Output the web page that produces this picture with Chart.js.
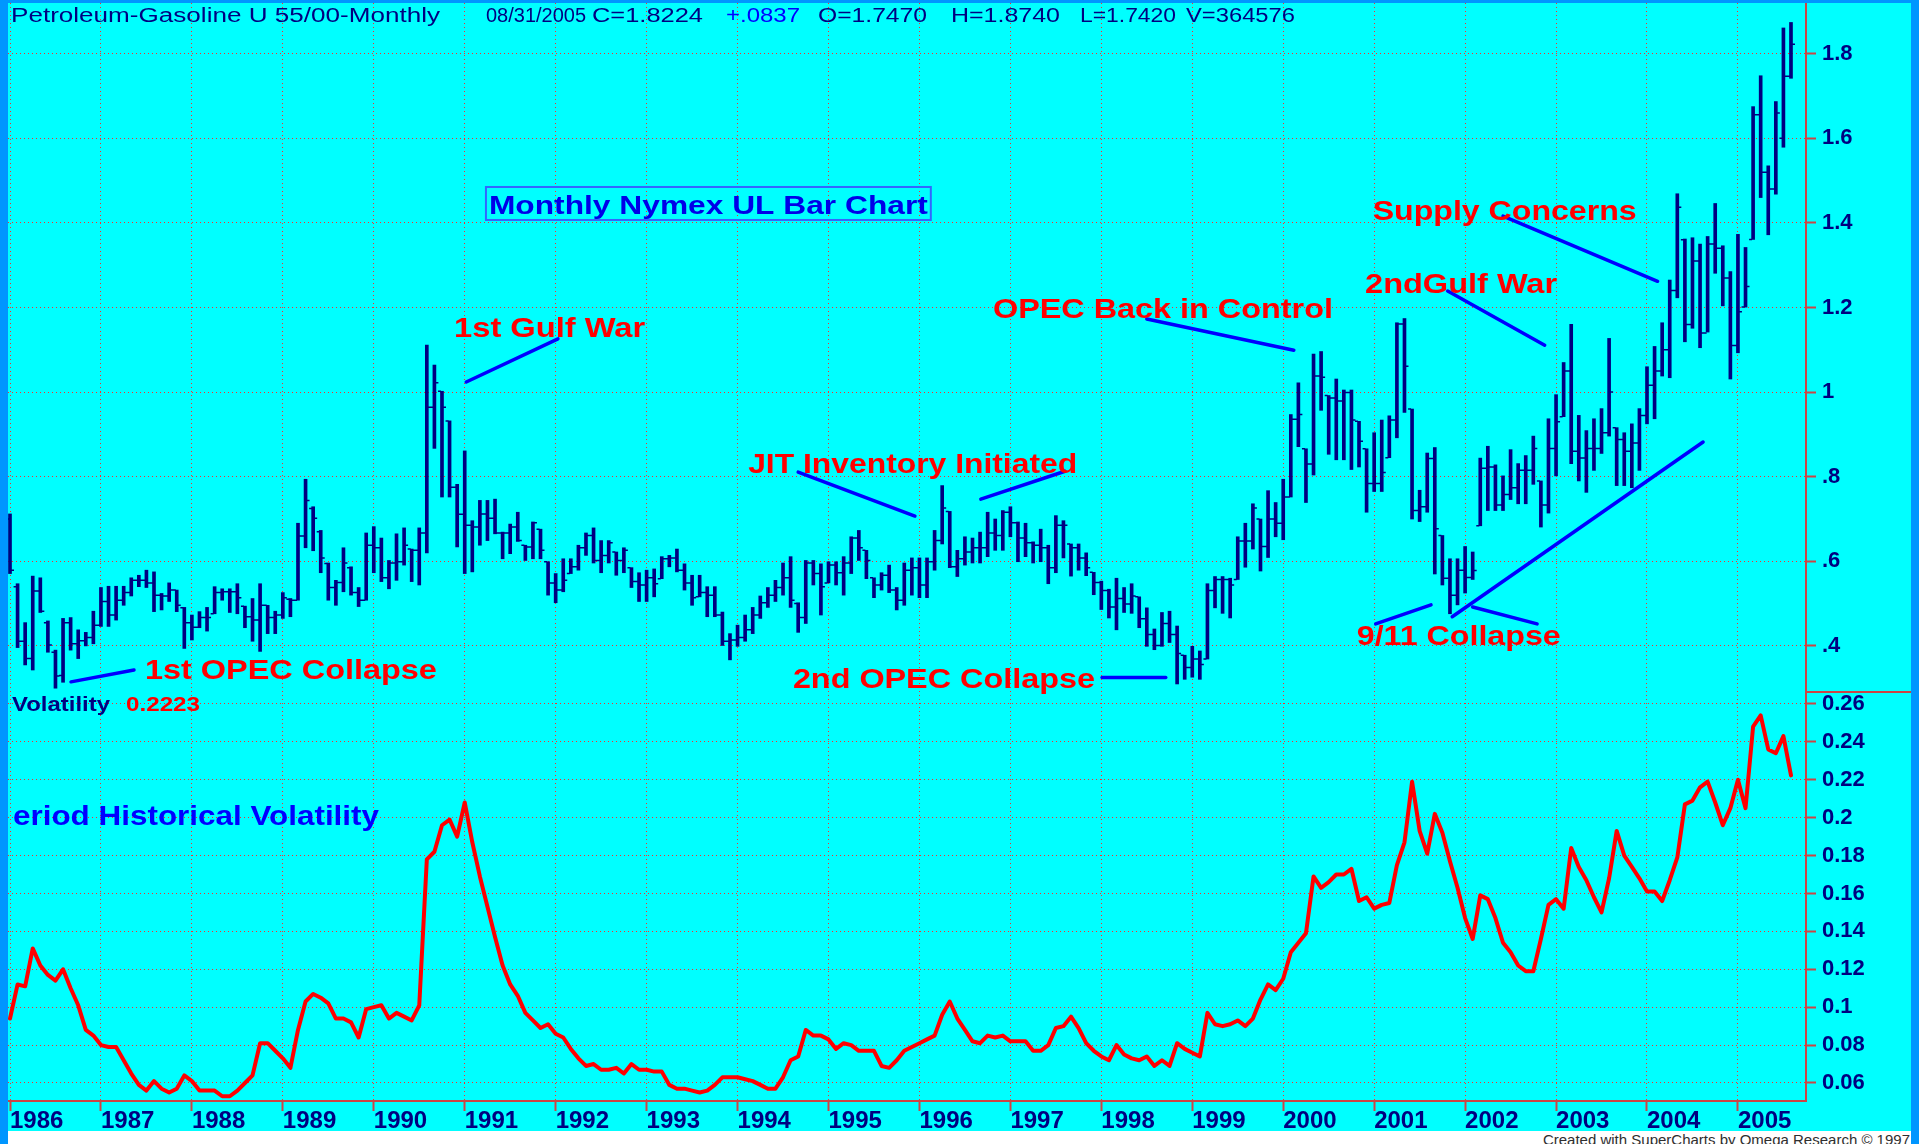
<!DOCTYPE html>
<html>
<head>
<meta charset="utf-8">
<script src="https://cdn.jsdelivr.net/npm/chart.js@4"></script>
<style>
  html, body { margin: 0; padding: 0; width: 1919px; height: 1144px; overflow: hidden; background: #0096ff; }
  #wrap { position: absolute; left: 8px; top: 3px; width: 1903px; height: 1128px; background: #00ffff; }
  #foot { position: absolute; left: 8px; top: 1131px; width: 1903px; height: 13px; background: #ffffff; overflow: hidden; }
  #foot span { position: absolute; right: 1px; top: 1px; font: 15px "Liberation Sans", Arial, sans-serif; line-height: 15px; color: #303030; white-space: nowrap; }
</style>
</head>
<body>
<div id="wrap"><canvas id="myChart" width="1903" height="1128"></canvas></div>
<div id="foot"><span>Created with SuperCharts by Omega Research © 1997</span></div>
<script>
const years = ["1986", "1987", "1988", "1989", "1990", "1991", "1992", "1993", "1994", "1995",
  "1996", "1997", "1998", "1999", "2000", "2001", "2002", "2003", "2004", "2005"];

// monthly bars, Jan 1986 .. Aug 2005
const high = [
  .712, .547, .455, .565, .561, .459, .390, .465, .467, .438, .432, .482,
  .538, .541, .541, .541, .561, .567, .579, .575, .524, .549, .532, .491,
  .473, .481, .491, .540, .535, .535, .547, .494, .512, .547, .496, .482,
  .526, .512, .690, .794, .729, .673, .596, .555, .632, .587, .538, .667,
  .682, .655, .602, .665, .679, .629, .679, 1.111, 1.064, 1.002, .932, .782,
  .861, .696, .744, .744, .747, .669, .688, .716, .638, .693, .676, .599,
  .571, .606, .606, .638, .667, .679, .649, .649, .622, .632, .585, .573,
  .579, .582, .611, .614, .629, .594, .567, .567, .540, .540, .480, .429,
  .449, .473, .491, .518, .538, .555, .596, .611, .502, .602, .602, .594,
  .599, .599, .611, .658, .673, .626, .561, .573, .591, .538, .596, .608,
  .608, .608, .673, .779, .718, .626, .658, .655, .669, .716, .700, .720,
  .729, .693, .690, .646, .676, .638, .708, .696, .641, .641, .620, .574,
  .553, .534, .560, .538, .547, .516, .490, .440, .479, .482, .447, .378,
  .399, .388, .547, .564, .564, .560, .658, .690, .736, .700, .767, .739,
  .794, .947, 1.022, .866, 1.090, 1.096, .992, 1.031, 1.005, 1.005, .931, .866,
  .904, .934, .944, 1.164, 1.174, .960, .768, .856, .869, .661, .606, .606,
  .635, .622, .844, .872, .828, .802, .864, .831, .850, .896, .790, .937,
  .994, 1.070, 1.160, .945, .909, .937, .961, 1.127, .916, .904, .925, .961,
  1.060, 1.108, 1.164, 1.265, 1.469, 1.362, 1.365, 1.350, 1.368, 1.446, 1.346, 1.285,
  1.373, 1.342, 1.675, 1.748, 1.535, 1.687, 1.861, 1.874
];
const low = [
  .571, .396, .355, .343, .479, .385, .300, .314, .390, .370, .400, .405,
  .446, .446, .461, .496, .518, .540, .538, .481, .485, .505, .481, .394,
  .414, .443, .435, .476, .508, .479, .476, .443, .411, .387, .429, .429,
  .465, .469, .508, .632, .625, .573, .508, .496, .528, .520, .493, .508,
  .573, .552, .535, .555, .591, .552, .544, .620, .867, .752, .752, .634,
  .571, .575, .638, .649, .665, .606, .618, .647, .602, .606, .606, .520,
  .502, .528, .571, .579, .614, .596, .573, .596, .567, .573, .538, .505,
  .505, .516, .559, .587, .575, .532, .496, .516, .469, .469, .401, .367,
  .399, .411, .429, .465, .491, .505, .520, .491, .432, .453, .544, .473,
  .549, .544, .520, .571, .602, .559, .514, .532, .526, .485, .496, .520,
  .514, .514, .579, .641, .585, .564, .591, .596, .596, .611, .626, .626,
  .658, .599, .611, .596, .599, .547, .573, .608, .565, .579, .566, .521,
  .486, .466, .438, .479, .477, .443, .399, .391, .399, .408, .310, .321,
  .326, .321, .369, .490, .477, .466, .557, .586, .629, .577, .609, .658,
  .651, .752, .871, .739, .804, .957, .853, .840, .840, .817, .823, .716,
  .765, .765, .845, .892, .952, .700, .694, .716, .570, .544, .476, .497,
  .525, .557, .684, .720, .720, .720, .746, .736, .736, .782, .681, .714,
  .802, .942, .831, .790, .763, .815, .855, .896, .779, .779, .774, .815,
  .925, .937, 1.038, 1.034, 1.223, 1.119, 1.151, 1.105, 1.142, 1.281, 1.204, 1.031,
  1.093, 1.201, 1.361, 1.460, 1.372, 1.468, 1.579, 1.742
];
const open = [
  .700, .540, .411, .370, .530, .455, .385, .330, .455, .405, .412, .420,
  .449, .505, .473, .508, .526, .555, .555, .549, .520, .518, .532, .490,
  .455, .444, .467, .476, .526, .528, .528, .494, .469, .461, .496, .467,
  .473, .510, .508, .660, .725, .670, .595, .538, .550, .585, .526, .508,
  .638, .632, .561, .596, .599, .629, .626, .667, .964, 1.002, .932, .775,
  .711, .685, .681, .712, .702, .667, .667, .681, .638, .634, .676, .599,
  .549, .532, .571, .587, .632, .661, .602, .614, .622, .602, .585, .552,
  .544, .561, .559, .606, .608, .579, .549, .516, .526, .520, .473, .411,
  .414, .420, .438, .473, .502, .520, .538, .561, .500, .467, .596, .571,
  .549, .591, .573, .596, .655, .626, .561, .544, .567, .532, .508, .579,
  .585, .544, .599, .649, .718, .587, .606, .622, .632, .632, .667, .661,
  .716, .691, .655, .644, .638, .632, .585, .685, .641, .632, .608, .574,
  .550, .531, .492, .512, .499, .516, .464, .427, .401, .453, .427, .378,
  .349, .369, .369, .531, .557, .557, .557, .648, .648, .700, .635, .700,
  .690, .752, .936, .866, .830, 1.038, .992, .986, .979, .999, .931, .866,
  .784, .784, .845, .934, 1.161, .960, .720, .729, .843, .661, .560, .520,
  .579, .562, .684, .820, .823, .733, .758, .774, .815, .815, .790, .733,
  .867, .942, 1.050, .860, .844, .867, .867, .904, .916, .888, .860, .880,
  .945, 1.016, 1.050, 1.100, 1.240, 1.360, 1.160, 1.310, 1.140, 1.350, 1.340, 1.270,
  1.110, 1.201, 1.361, 1.656, 1.520, 1.480, 1.600, 1.747
];
const close = [
  .579, .411, .370, .530, .482, .402, .329, .455, .405, .412, .420, .449,
  .505, .473, .508, .526, .555, .555, .549, .520, .518, .532, .496, .455,
  .444, .467, .467, .526, .528, .528, .514, .469, .461, .496, .467, .473,
  .514, .508, .660, .744, .702, .608, .538, .550, .596, .526, .508, .638,
  .632, .561, .596, .599, .638, .626, .667, .964, 1.022, .964, .775, .711,
  .685, .681, .712, .702, .667, .667, .681, .649, .634, .691, .626, .549,
  .532, .555, .587, .632, .661, .602, .614, .644, .602, .626, .552, .544,
  .561, .547, .606, .608, .579, .549, .514, .526, .520, .473, .411, .414,
  .420, .438, .473, .502, .520, .538, .561, .508, .467, .596, .571, .540,
  .591, .573, .596, .655, .632, .602, .544, .567, .532, .508, .579, .585,
  .544, .599, .649, .726, .587, .606, .622, .632, .632, .667, .661, .716,
  .691, .655, .644, .638, .632, .585, .685, .685, .632, .608, .585, .550,
  .531, .492, .512, .499, .518, .464, .427, .401, .453, .427, .382, .349,
  .369, .356, .531, .557, .557, .544, .648, .648, .726, .635, .700, .690,
  .752, .936, .947, .830, 1.038, 1.035, .986, .979, .999, .934, .884, .784,
  .784, .810, .934, 1.161, 1.061, .720, .729, .843, .677, .560, .520, .579,
  .562, .578, .820, .823, .733, .758, .774, .815, .815, .867, .733, .867,
  .930, 1.050, .860, .844, .867, .867, .904, 1.000, .888, .860, .880, .945,
  1.016, 1.050, 1.100, 1.240, 1.437, 1.160, 1.310, 1.140, 1.350, 1.340, 1.270, 1.110,
  1.190, 1.250, 1.656, 1.520, 1.480, 1.660, 1.747, 1.8224
];
const volatility = [
  .094, .112, .111, .131, .122, .117, .114, .120, .110, .101, .088, .085,
  .080, .079, .079, .072, .065, .059, .056, .061, .057, .055, .057, .064,
  .061, .056, .056, .056, .053, .053, .056, .060, .064, .081, .081, .077,
  .073, .068, .088, .103, .107, .105, .102, .094, .094, .092, .084, .099,
  .100, .101, .094, .097, .095, .093, .101, .178, .182, .196, .199, .190,
  .208, .187, .169, .153, .137, .122, .112, .106, .097, .093, .089, .091,
  .086, .084, .078, .073, .069, .070, .067, .067, .068, .065, .070, .067,
  .067, .066, .066, .059, .057, .057, .056, .055, .056, .059, .063, .063,
  .063, .062, .061, .059, .057, .057, .063, .072, .074, .088, .085, .085,
  .083, .078, .081, .080, .077, .077, .077, .069, .068, .072, .077, .079,
  .081, .083, .085, .096, .103, .094, .088, .082, .081, .085, .084, .085,
  .082, .082, .082, .077, .077, .080, .089, .090, .095, .089, .081, .077,
  .074, .072, .080, .075, .073, .072, .074, .069, .072, .069, .081, .078,
  .076, .074, .097, .091, .090, .091, .093, .090, .094, .104, .112, .109,
  .115, .129, .134, .139, .169, .163, .166, .170, .170, .173, .156, .158,
  .152, .154, .155, .175, .187, .219, .193, .181, .202, .192, .177, .163,
  .147, .136, .159, .157, .147, .134, .129, .122, .119, .119, .136, .154,
  .157, .152, .184, .174, .167, .158, .150, .168, .193, .180, .174, .168,
  .161, .161, .156, .167, .179, .207, .209, .216, .219, .208, .196, .205,
  .220, .205, .248, .254, .236, .234, .243, .2223
];

const priceTicks = [0.4, 0.6, 0.8, 1.0, 1.2, 1.4, 1.6, 1.8];
const priceLabels = [".4", ".6", ".8", "1", "1.2", "1.4", "1.6", "1.8"];
const volTicks = [0.06, 0.08, 0.10, 0.12, 0.14, 0.16, 0.18, 0.20, 0.22, 0.24, 0.26];
const volLabels = ["0.06", "0.08", "0.1", "0.12", "0.14", "0.16", "0.18", "0.2", "0.22", "0.24", "0.26"];

// header line: text, x, width, colour
const header = [
  ["Petroleum-Gasoline U 55/00-Monthly", 3, 429, "#000080"],
  ["08/31/2005", 478, 100, "#000080"],
  ["C=1.8224", 584, 111, "#000080"],
  ["+.0837", 718, 74, "#0000ff"],
  ["O=1.7470", 810, 109, "#000080"],
  ["H=1.8740", 943, 109, "#000080"],
  ["L=1.7420", 1072, 96, "#000080"],
  ["V=364576", 1178, 109, "#000080"]
];

// red notes: text, month index, price at baseline, width
const notes = [
  ["1st OPEC Collapse", 17.8, 0.322, 292],
  ["1st Gulf War", 58.6, 1.130, 191],
  ["JIT Inventory Initiated", 97.4, 0.809, 329],
  ["2nd OPEC Collapse", 103.3, 0.301, 302],
  ["OPEC Back in Control", 129.7, 1.175, 340],
  ["2ndGulf War", 178.8, 1.234, 192],
  ["Supply Concerns", 179.8, 1.407, 264],
  ["9/11 Collapse", 177.7, 0.402, 204]
];
// pointer lines: from (month, price) to (month, price)
const noteLines = [
  [8.05, 0.315, 16.36, 0.343],
  [60.2, 1.024, 72.3, 1.126],
  [104.0, 0.811, 119.4, 0.707],
  [128.1, 0.747, 139.2, 0.813],
  [144.1, 0.325, 152.5, 0.325],
  [150.0, 1.173, 169.4, 1.099],
  [189.7, 1.239, 202.5, 1.111],
  [197.0, 1.416, 217.4, 1.262],
  [180.2, 0.452, 187.5, 0.497],
  [193.0, 0.492, 201.5, 0.452],
  [190.3, 0.469, 223.4, 0.882]
];

const fam = '"Liberation Sans", Arial, sans-serif';
const gridRed = "#ff2a2a";
const axisRed = "#cc4444";

function fitText(ctx, str, x, y, w, font, color) {
  ctx.save();
  ctx.font = font;
  ctx.fillStyle = color;
  ctx.textAlign = "left";
  ctx.textBaseline = "alphabetic";
  const m = ctx.measureText(str).width;
  ctx.translate(x, y);
  ctx.scale(w / m, 1);
  ctx.fillText(str, 0, 0);
  ctx.restore();
}

const barTicks = {
  id: "barTicks",
  afterDatasetsDraw(chart) {
    const ctx = chart.ctx;
    const xs = chart.scales.x;
    const ys = chart.scales.yPrice;
    ctx.save();
    ctx.strokeStyle = "#000080";
    ctx.lineWidth = 1.5;
    ctx.beginPath();
    high.forEach((h, i) => {
      const x = xs.getPixelForValue(i);
      const yo = ys.getPixelForValue(open[i]);
      const yc = ys.getPixelForValue(close[i]);
      ctx.moveTo(x - 4, yo);
      ctx.lineTo(x - 1, yo);
      ctx.moveTo(x + 1, yc);
      ctx.lineTo(x + 4, yc);
    });
    ctx.stroke();
    ctx.restore();
  }
};

const notesPlugin = {
  id: "notes",
  afterDraw(chart) {
    const ctx = chart.ctx;
    const xs = chart.scales.x;
    const ys = chart.scales.yPrice;
    const yv = chart.scales.yVol;
    const area = chart.chartArea;

    // panel separator in the axis column
    ctx.save();
    ctx.strokeStyle = axisRed;
    ctx.lineWidth = 2;
    ctx.beginPath();
    ctx.moveTo(area.right, yv.top);
    ctx.lineTo(chart.width, yv.top);
    ctx.stroke();

    ctx.strokeStyle = "#0000ff";
    ctx.lineWidth = 3.5;
    ctx.lineCap = "round";
    noteLines.forEach(([m1, p1, m2, p2]) => {
      ctx.beginPath();
      ctx.moveTo(xs.getPixelForValue(m1), ys.getPixelForValue(p1));
      ctx.lineTo(xs.getPixelForValue(m2), ys.getPixelForValue(p2));
      ctx.stroke();
    });
    ctx.restore();

    notes.forEach(([txt, m, p, w]) => {
      fitText(ctx, txt, xs.getPixelForValue(m), ys.getPixelForValue(p), w, "bold 28px " + fam, "#ff0000");
    });

    header.forEach(([txt, x, w, col]) => {
      fitText(ctx, txt, x, 19, w, "20px " + fam, col);
    });

    // title box
    const bx1 = xs.getPixelForValue(62.8), bx2 = xs.getPixelForValue(121.5);
    const by1 = ys.getPixelForValue(1.485), by2 = ys.getPixelForValue(1.407);
    ctx.save();
    ctx.strokeStyle = "#3366ff";
    ctx.lineWidth = 2;
    ctx.strokeRect(bx1, by1, bx2 - bx1, by2 - by1);
    ctx.restore();
    fitText(ctx, "Monthly Nymex UL Bar Chart", bx1 + 3, by2 - 6, bx2 - bx1 - 6, "bold 26px " + fam, "#0000e8");

    fitText(ctx, "Volatility", area.left + 4, yv.top + 19, 98, "bold 21px " + fam, "#000080");
    fitText(ctx, "0.2223", area.left + 118, yv.top + 19, 74, "bold 21px " + fam, "#ff0000");
    fitText(ctx, "eriod Historical Volatility", area.left + 5, yv.top + 133, 366, "bold 28px " + fam, "#0000ff");
  }
};

function noPad(s) {
  s.paddingTop = 0;
  s.paddingBottom = 0;
  s.paddingLeft = 0;
  s.paddingRight = 0;
}

const ctxChart = document.getElementById("myChart").getContext("2d");
const myChart = new Chart(ctxChart, {
  type: "bar",
  data: {
    datasets: [
      {
        type: "bar",
        label: "Gasoline",
        data: high.map((h, i) => ({ x: i, y: [low[i], h] })),
        xAxisID: "x",
        yAxisID: "yPrice",
        backgroundColor: "#000080",
        borderWidth: 0,
        barThickness: 3
      },
      {
        type: "line",
        label: "Volatility",
        data: volatility.map((v, i) => ({ x: i, y: v })),
        xAxisID: "x",
        yAxisID: "yVol",
        borderColor: "#ff0000",
        borderWidth: 4,
        pointRadius: 0,
        tension: 0,
        borderJoinStyle: "round",
        borderCapStyle: "round"
      }
    ]
  },
  options: {
    responsive: false,
    animation: false,
    devicePixelRatio: 1,
    events: [],
    layout: { padding: 0 },
    plugins: { legend: { display: false }, tooltip: { enabled: false } },
    scales: {
      x: {
        type: "linear",
        position: "bottom",
        min: -0.264,
        max: 236.98,
        offset: false,
        afterBuildTicks: (s) => { s.ticks = years.map((y, k) => ({ value: k * 12 })); },
        afterFit: (s) => { s.height = 30; noPad(s); },
        ticks: {
          callback: (v) => years[Math.round(v / 12)],
          align: "start",
          autoSkip: false,
          maxRotation: 0,
          padding: -4,
          color: "#000080",
          font: { family: fam, size: 24, weight: "bold" }
        },
        grid: { offset: false, color: gridRed, lineWidth: 1, drawTicks: true, tickLength: 10, tickColor: axisRed, tickWidth: 2 },
        border: { display: true, color: axisRed, width: 2, dash: [1, 3] }
      },
      yPrice: {
        type: "linear",
        position: "right",
        stack: "panels",
        stackWeight: 689,
        min: 0.291,
        max: 1.920,
        bounds: "data",
        afterBuildTicks: (s) => { s.ticks = priceTicks.map((v) => ({ value: v })); },
        afterFit: (s) => { s.width = 105; noPad(s); },
        ticks: {
          callback: (v, i) => priceLabels[i],
          autoSkip: false,
          padding: 6,
          color: "#000080",
          font: { family: fam, size: 22, weight: "bold" }
        },
        grid: { color: gridRed, lineWidth: 1, drawTicks: true, tickLength: 10, tickColor: axisRed, tickWidth: 2 },
        border: { display: true, color: axisRed, width: 2, dash: [1, 3] }
      },
      yVol: {
        type: "linear",
        position: "right",
        stack: "panels",
        stackWeight: 409,
        min: 0.0505,
        max: 0.2663,
        bounds: "data",
        afterBuildTicks: (s) => { s.ticks = volTicks.map((v) => ({ value: v })); },
        afterFit: (s) => { s.width = 105; noPad(s); },
        ticks: {
          callback: (v, i) => volLabels[i],
          autoSkip: false,
          padding: 6,
          color: "#000080",
          font: { family: fam, size: 22, weight: "bold" }
        },
        grid: { color: gridRed, lineWidth: 1, drawTicks: true, tickLength: 10, tickColor: axisRed, tickWidth: 2 },
        border: { display: true, color: axisRed, width: 2, dash: [1, 3] }
      }
    }
  },
  plugins: [barTicks, notesPlugin]
});
</script>
</body>
</html>
